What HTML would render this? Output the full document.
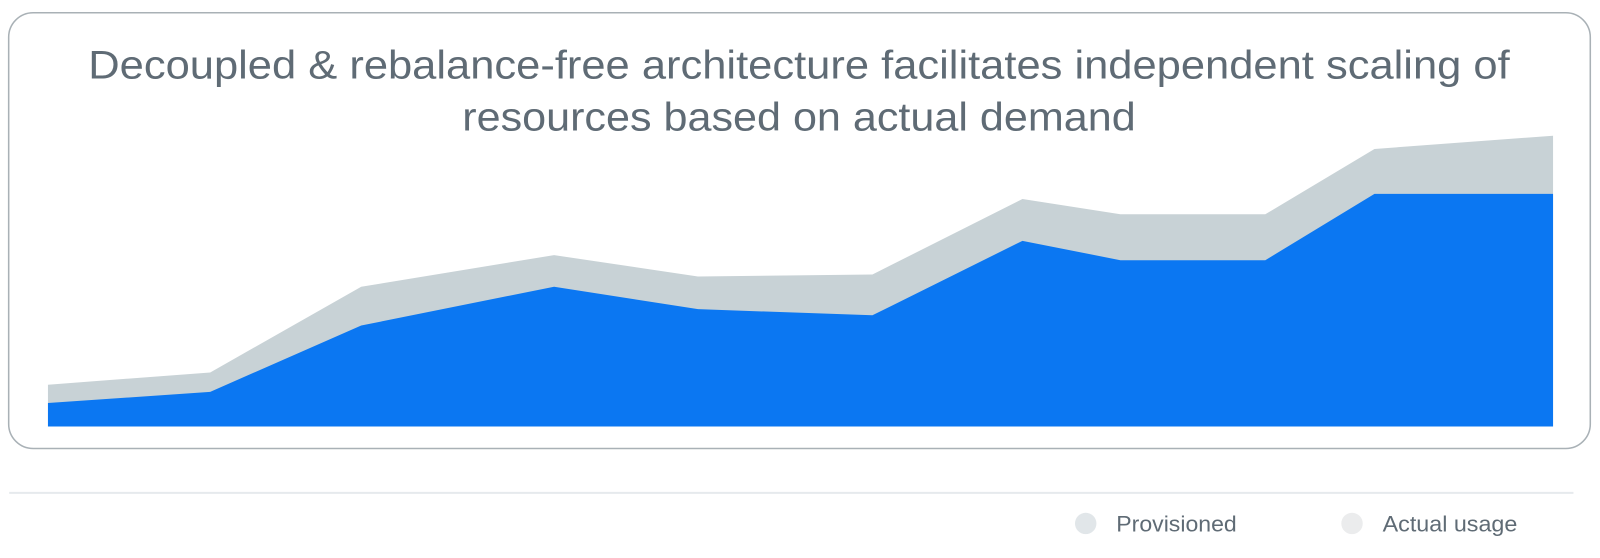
<!DOCTYPE html>
<html><head><style>
body{margin:0;background:#fff;width:1600px;height:553px;overflow:hidden;font-family:"Liberation Sans",sans-serif;}
</style></head><body>
<svg width="1600" height="553" xmlns="http://www.w3.org/2000/svg">
<g transform="scale(1.0204)">
<rect x="8.5" y="12.5" width="1550" height="427" rx="24" fill="#fff" stroke="#a9b1b6" stroke-width="1.5"/>
<text x="783" y="77" text-anchor="middle" font-family="Liberation Sans, sans-serif" font-size="39" fill="#5f6b75" textLength="1393" lengthAdjust="spacingAndGlyphs">Decoupled &amp; rebalance-free architecture facilitates independent scaling of</text>
<text x="783" y="128" text-anchor="middle" font-family="Liberation Sans, sans-serif" font-size="39" fill="#5f6b75" textLength="660" lengthAdjust="spacingAndGlyphs">resources based on actual demand</text>
<polygon fill="#c8d2d6" points="47,377 206,365 354,281 543,250 684,271 855,269 1002,195 1098,210 1240,210 1347,146 1522,133 1522,418 47,418"/>
<polygon fill="#0b77f2" points="47,395 206,384 354,319 543,281 684,303 855,309 1002,236 1098,255 1240,255 1347,190 1522,190 1522,418 47,418"/>
<line x1="9" y1="483" x2="1542" y2="483" stroke="#e6eaed" stroke-width="2"/>
<circle cx="1064" cy="513" r="10.5" fill="#e1e6e9"/>
<text x="1094" y="521" font-family="Liberation Sans, sans-serif" font-size="22" fill="#5f6b75" textLength="118" lengthAdjust="spacingAndGlyphs">Provisioned</text>
<circle cx="1325" cy="513" r="10.5" fill="#ebeced"/>
<text x="1355" y="521" font-family="Liberation Sans, sans-serif" font-size="22" fill="#5f6b75" textLength="132" lengthAdjust="spacingAndGlyphs">Actual usage</text>
</g>
</svg>
</body></html>
